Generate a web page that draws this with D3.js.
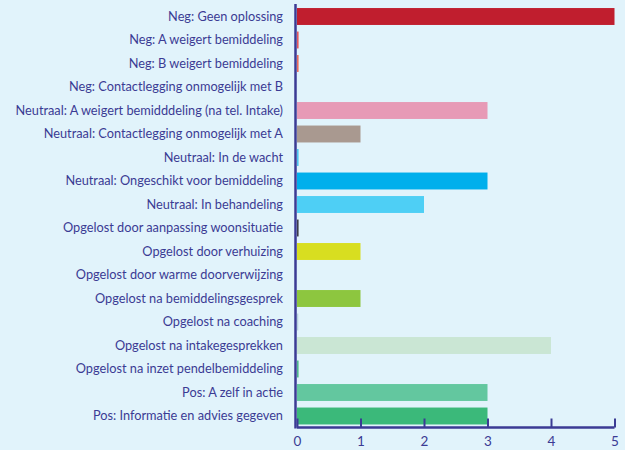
<!DOCTYPE html>
<html>
<head>
<meta charset="utf-8">
<script src="https://cdn.jsdelivr.net/npm/d3@7"></script>
<style>
  html, body { margin: 0; padding: 0; background: #e1f3fb; }
  svg { display: block; }
  .label { font-family: Lato, "Noto Sans", sans-serif; font-size: 12.75px; fill: #3b3b94; }
  .tick text { font-family: Lato, "Noto Sans", sans-serif; font-size: 13.5px; fill: #3b3b94; }
</style>
</head>
<body>
<div id="chart"></div>
<script>
// categories, top to bottom
var categories = [
    "Neg: Geen oplossing",
    "Neg: A weigert bemiddeling",
    "Neg: B weigert bemiddeling",
    "Neg: Contactlegging onmogelijk met B",
    "Neutraal: A weigert bemidddeling (na tel. Intake)",
    "Neutraal: Contactlegging onmogelijk met A",
    "Neutraal: In de wacht",
    "Neutraal: Ongeschikt voor bemiddeling",
    "Neutraal: In behandeling",
    "Opgelost door aanpassing woonsituatie",
    "Opgelost door verhuizing",
    "Opgelost door warme doorverwijzing",
    "Opgelost na bemiddelingsgesprek",
    "Opgelost na coaching",
    "Opgelost na intakegesprekken",
    "Opgelost na inzet pendelbemiddeling",
    "Pos: A zelf in actie",
    "Pos: Informatie en advies gegeven"
];

// counts (tiny values are the thin slivers in the picture)
var values = [5, 0.025, 0.025, 0, 3, 1, 0.025, 3, 2, 0.025, 1, 0, 1, 0.02, 4, 0.025, 3, 3];

var barColors = [
    "#c01e2e", "#e8585c", "#ec6a5a", "#e8585c",
    "#e79ab6", "#a99990", "#4cc6f0", "#00afec", "#4ecff5",
    "#3c3c48", "#d8de20", "#8dc63f", "#8dc63f", "#b7d2de",
    "#cae6d4", "#4fb98c", "#63c79f", "#3bb97a"
];

var xTicks = [0, 1, 2, 3, 4, 5];

var width = 625, height = 450;
var axisColor = "#3b3b94";

var svg = d3.select("#chart")
    .append("svg")
    .attr("width", width)
    .attr("height", height);

var x = d3.scaleLinear()
    .domain([0, 5])
    .range([297, 614.5]);

var y = d3.scaleBand()
    .domain(categories)
    .range([4.75, 427.75])
    .paddingInner(0.28)
    .paddingOuter(0.14);

// bars
svg.append("g")
    .selectAll("rect")
    .data(values)
    .enter()
    .append("rect")
    .attr("x", x(0))
    .attr("y", function (d, i) { return y(categories[i]); })
    .attr("width", function (d) { return x(d) - x(0); })
    .attr("height", y.bandwidth())
    .attr("fill", function (d, i) { return barColors[i]; });

// category labels
svg.append("g")
    .selectAll(".label")
    .data(categories)
    .enter()
    .append("text")
    .attr("class", "label")
    .attr("x", 283)
    .attr("y", function (d) { return y(d) + y.bandwidth() / 2 + 4; })
    .attr("text-anchor", "end")
    .text(function (d) { return d; });

// x axis, ticks pointing up into the plot
var xAxis = svg.append("g")
    .attr("transform", "translate(0,427.5)")
    .call(d3.axisBottom(x).tickValues(xTicks).tickFormat(d3.format("d")).tickSize(-9).tickPadding(17));

xAxis.select(".domain")
    .attr("stroke", axisColor)
    .attr("stroke-width", 2.5)
    .attr("d", "M" + x(0) + ",0H" + x(5));

xAxis.selectAll(".tick line")
    .attr("stroke", axisColor)
    .attr("stroke-width", 2);

xAxis.selectAll(".tick text")
    .attr("dy", "0.1em");

// y axis line
svg.append("line")
    .attr("x1", 295.5)
    .attr("x2", 295.5)
    .attr("y1", 4)
    .attr("y2", 428.5)
    .attr("stroke", axisColor)
    .attr("stroke-width", 2.5);
</script>
</body>
</html>
